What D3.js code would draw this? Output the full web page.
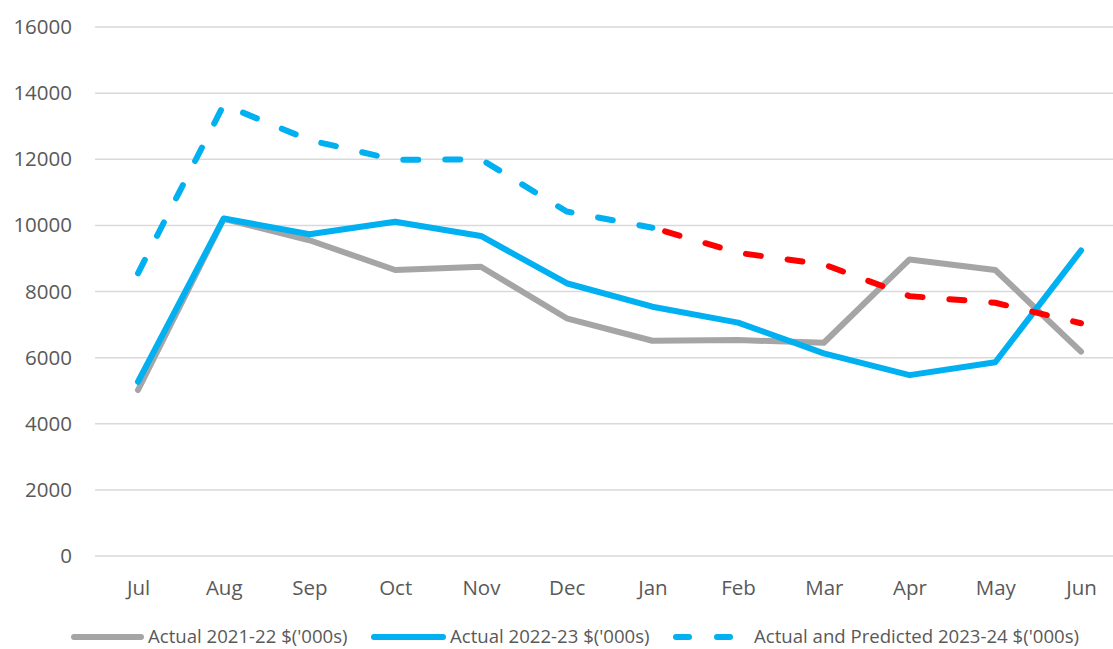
<!DOCTYPE html>
<html>
<head>
<meta charset="utf-8">
<script src="https://cdn.jsdelivr.net/npm/d3@7"></script>
<style>
html,body{margin:0;padding:0;background:#fff;}
svg{display:block;}
text{font-family:"Open Sans",sans-serif;fill:#595959;}
</style>
</head>
<body>
<svg id="chart" width="1113" height="649"></svg>
<script>
const months = ["Jul","Aug","Sep","Oct","Nov","Dec","Jan","Feb","Mar","Apr","May","Jun"];
const actual2122 = [5020,10200,9550,8650,8750,7190,6510,6530,6450,8970,8650,6180];
const actual2223 = [5270,10210,9730,10110,9680,8250,7540,7060,6130,5470,5860,9240];
const actualPred2324 = [8550,13650,12580,11980,12000,10420,9930,9170,8820,7860,7660,7040];
const predictedFrom = "Jan";
const yTicks = [0,2000,4000,6000,8000,10000,12000,14000,16000];
const legendLabels = ["Actual 2021-22 $('000s)","Actual 2022-23 $('000s)","Actual and Predicted 2023-24 $('000s)"];

const GRAY="#A5A5A5", BLUE="#00B0F0", RED="#FF0000";
const svg = d3.select("#chart");
const x = d3.scalePoint().domain(months).range([138,1081]);
const y = d3.scaleLinear().domain([0,16000]).range([556,27]);

// gridlines
svg.append("g").selectAll("line").data(yTicks).join("line")
  .attr("x1",95).attr("x2",1124)
  .attr("y1",d=>y(d)).attr("y2",d=>y(d))
  .attr("stroke","#D9D9D9").attr("stroke-width",1.5);

// y axis labels
const yAxis = d3.axisLeft(y).tickValues(yTicks).tickSize(0).tickPadding(0).tickFormat(d3.format("d"));
const gy = svg.append("g").attr("transform","translate(72,0)").call(yAxis);
gy.select(".domain").remove();
gy.selectAll("text").style("font-size","20.5px").attr("fill","#595959").attr("font-family","Open Sans");

// x axis labels
const xAxis = d3.axisBottom(x).tickSize(0).tickPadding(0);
const gx = svg.append("g").attr("transform","translate(0,580.5)").call(xAxis);
gx.select(".domain").remove();
gx.selectAll("text").style("font-size","20.5px").attr("fill","#595959").attr("font-family","Open Sans").attr("dy","0.71em");

const line = d3.line().x((d,i)=>x(months[i])).y(d=>y(d));
const lineP = d3.line().x(d=>x(d.m)).y(d=>y(d.v));

svg.append("path").datum(actual2122).attr("d",line)
  .attr("fill","none").attr("stroke",GRAY).attr("stroke-width",6).attr("stroke-linejoin","round").attr("stroke-linecap","round");
svg.append("path").datum(actual2223).attr("d",line)
  .attr("fill","none").attr("stroke",BLUE).attr("stroke-width",6).attr("stroke-linejoin","round").attr("stroke-linecap","round");

const pts = months.map((m,i)=>({m, v: actualPred2324[i]}));
const splitIdx = months.indexOf(predictedFrom);
const dash = "15,27";
const pActual = svg.append("path").datum(pts.slice(0,splitIdx+1)).attr("d",lineP)
  .attr("fill","none").attr("stroke",BLUE).attr("stroke-width",6).attr("stroke-linejoin","round").attr("stroke-linecap","round")
  .attr("stroke-dasharray",dash);
const offset = pActual.node().getTotalLength();
svg.append("path").datum(pts.slice(splitIdx)).attr("d",lineP)
  .attr("fill","none").attr("stroke",RED).attr("stroke-width",6).attr("stroke-linejoin","round").attr("stroke-linecap","round")
  .attr("stroke-dasharray",dash).attr("stroke-dashoffset",-offset);

// legend
const legend = [
  {label:legendLabels[0], color:GRAY, dashed:false, x1:74, x2:141, tx:148},
  {label:legendLabels[1], color:BLUE, dashed:false, x1:374, x2:443, tx:450},
  {label:legendLabels[2], color:BLUE, dashed:true, x1:676, x2:740, tx:754}
];
const lg = svg.append("g");
legend.forEach(l=>{
  const ln = lg.append("line").attr("x1",l.x1).attr("x2",l.x2).attr("y1",637).attr("y2",637)
    .attr("stroke",l.color).attr("stroke-width",6).attr("stroke-linecap","round");
  if(l.dashed) ln.attr("stroke-dasharray","13,28");
  lg.append("text").attr("x",l.tx).attr("y",636.5).attr("dy","0.35em")
    .style("font-size","18.6px").text(l.label);
});
</script>
</body>
</html>
